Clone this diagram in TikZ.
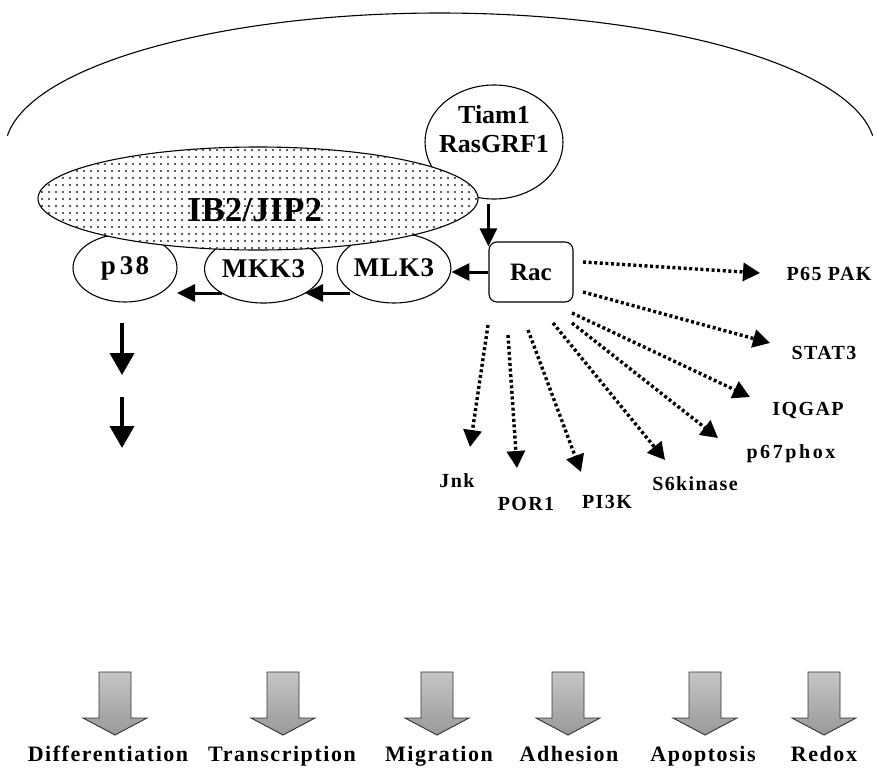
\documentclass[tikz,border=0pt]{standalone}
\usepackage{fontspec}
\setmainfont{Liberation Serif}
\newfontfamily\lspA[LetterSpace=7]{Liberation Serif}
\newfontfamily\lspB[LetterSpace=13]{Liberation Serif}
\newfontfamily\lspC[LetterSpace=8]{Liberation Serif}
\newfontfamily\lspD[LetterSpace=3]{Liberation Serif}
\usetikzlibrary{arrows.meta,shapes.geometric,patterns.meta}
\tikzdeclarepattern{
  name=bigdots,
  type=uncolored,
  bottom left={(0pt,0pt)},
  top right={(6.5pt,6.5pt)},
  tile size={(6.5pt,6.5pt)},
  code={\fill (3.25pt,3.25pt) circle (1.15pt);}
}
\tikzset{
  thinline/.style={line width=1.1pt},
  oval/.style={ellipse, draw, thinline, fill=white, inner sep=0pt},
  sarrow/.style={line width=3pt, -{Triangle[width=17pt,length=18pt]}},
  bigdown/.style={line width=4pt, -{Triangle[width=24pt,length=22pt]}},
  darrow/.style={line width=3.4pt, dash pattern=on 3pt off 2.6pt, -{Triangle[width=18pt,length=17pt]}},
  lbl/.style={font=\lspA\bfseries\fontsize{20}{24}\selectfont, anchor=base, inner sep=0pt},
  blbl/.style={font=\lspA\bfseries\fontsize{22}{26}\selectfont, anchor=base, inner sep=0pt},
  garrow/.pic={
    \shade[top color=gray!45, bottom color=gray!80, draw=black!80, line width=0.9pt]
      (-16,0) -- (16,0) -- (16,46) -- (32,46) -- (0,63) -- (-32,46) -- (-16,46) -- cycle;
  }
}
\begin{document}
\begin{tikzpicture}[x=1pt, y=-1pt]
\useasboundingbox (0,0) rectangle (877,771);
% cell membrane arc
\draw[thinline] (7.4,135.7) arc[start angle=186, end angle=354, x radius=435, y radius=137];
% Tiam1 / RasGRF1
\node[oval, minimum width=138pt, minimum height=114pt] (tiam) at (494,142) {};
\node[font=\bfseries\fontsize{26}{29}\selectfont, align=center, inner sep=0pt] (tiamtxt) at (494,129) {Tiam1\\RasGRF1};
% kinases
\node[oval, minimum width=104pt, minimum height=68pt, font=\lspC\bfseries\fontsize{27}{30}\selectfont] (p38) at (125,268) {p\kern4pt38};
\node[oval, minimum width=106pt, minimum height=68pt, font=\lspD\bfseries\fontsize{27}{30}\selectfont] (mkk) at (263.5,269) {MKK3};
\node[oval, minimum width=106pt, minimum height=70pt, font=\lspD\bfseries\fontsize{27}{30}\selectfont] (mlk) at (394,268) {MLK3};
% scaffold
\node[ellipse, draw, thinline, fill=white, inner sep=0pt, minimum width=440pt, minimum height=103pt,
      postaction={pattern=bigdots, pattern color=black!85}] (ib2) at (258,198.5) {};
\node[font=\bfseries\fontsize{35}{38}\selectfont, anchor=base, inner sep=0pt] (ib2txt) at (255,221) {IB2/JIP2};
% Rac
\node[draw, thinline, rounded corners=8pt, minimum width=84pt, minimum height=60pt, fill=white,
      font=\bfseries\fontsize{25}{28}\selectfont] (rac) at (531,272) {Rac};
% solid arrows
\draw[sarrow] ([yshift=37pt]rac.north west) -- ([yshift=-5pt]rac.north west);
\draw[sarrow] (rac.west) -- (rac.west -| mlk.east);
\coordinate (m1s) at (350,293); \coordinate (m1e) at (305,293);
\coordinate (m2s) at (222,293); \coordinate (m2e) at (177,293);
\draw[sarrow] (m1s) -- (m1e);
\draw[sarrow] (m2s) -- (m2e);
\coordinate (d1s) at (122,323); \coordinate (d1e) at (122,375);
\coordinate (d2s) at (122,397); \coordinate (d2e) at (122,448);
\draw[bigdown] (d1s) -- (d1e);
\draw[bigdown] (d2s) -- (d2e);
% targets of Rac
\node[lbl] (pak) at (829,280) {P65 PAK};
\node[lbl] (stat) at (824,359) {STAT3};
\node[lbl] (iqgap) at (808,415) {IQGAP};
\node[lbl, font=\lspB\bfseries\fontsize{20}{24}\selectfont] (phox) at (791,458) {p67phox};
\node[lbl] (s6k) at (695,490) {S6kinase};
\node[lbl] (pi3k) at (607,508) {PI3K};
\node[lbl] (por) at (526,510) {POR1};
\node[lbl] (jnk) at (457,487) {Jnk};
% dotted arrows
\coordinate (r1) at (583,262); \coordinate (t1) at (760,273);
\coordinate (r2) at (583,292); \coordinate (t2) at (770,343);
\coordinate (r3) at (572,313); \coordinate (t3) at (750,397);
\coordinate (r4) at (572,323); \coordinate (t4) at (718,438);
\coordinate (r5) at (553,323); \coordinate (t5) at (665,460);
\coordinate (r6) at (528,330); \coordinate (t6) at (581,472);
\coordinate (r7) at (508,335); \coordinate (t7) at (517,468);
\coordinate (r8) at (488,325); \coordinate (t8) at (470,447);
\foreach \i in {1,...,8} {\draw[darrow] (r\i) -- (t\i);}
% outcome arrows
\pic (ga1) at (115,672) {garrow};
\pic (ga2) at (283,672) {garrow};
\pic (ga3) at (437,672) {garrow};
\pic (ga4) at (568,672) {garrow};
\pic (ga5) at (705,672) {garrow};
\pic (ga6) at (824,672) {garrow};
\node[blbl] (o1) at (108,761) {Differentiation};
\node[blbl] (o2) at (282,761) {Transcription};
\node[blbl] (o3) at (439,761) {Migration};
\node[blbl] (o4) at (569,761) {Adhesion};
\node[blbl] (o5) at (703,761) {Apoptosis};
\node[blbl] (o6) at (824,761) {Redox};
\end{tikzpicture}
\end{document}
